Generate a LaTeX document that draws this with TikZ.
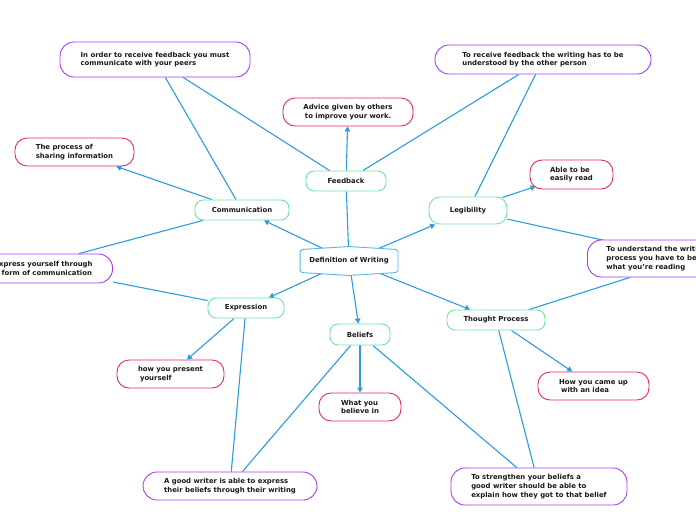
\documentclass[tikz,border=0pt]{standalone}
\usepackage{fontspec}
\setmainfont{DejaVu Sans}
\usepackage{xcolor}
\usetikzlibrary{calc, arrows.meta, backgrounds}

\definecolor{linkblue}{HTML}{2A9DDF}
\definecolor{hubblue}{HTML}{5AB3EA}
\definecolor{topicgreen}{HTML}{6BE4A3}
\definecolor{notepink}{HTML}{E8285E}
\definecolor{notepurple}{HTML}{A53DF0}

\tikzset{
    box/.style={fill=white, line width=0.9pt, align=left, inner sep=0pt, text=black!90, font=\fontsize{6.9}{8.7}\selectfont\bfseries},
    topic/.style={box, draw=topicgreen, rounded corners=8pt, minimum height=20pt},
    fact/.style={box, draw=notepink, rounded corners=12pt, minimum height=28pt},
    link/.style={box, draw=notepurple, rounded corners=14pt, minimum height=29pt},
    conn/.style={linkblue, line width=1.1pt},
    arr/.style={conn, -{Triangle[length=5pt,width=5.5pt]}},
}

\begin{document}
\begin{tikzpicture}[x=1pt, y=-1pt]
    \useasboundingbox (0,0) rectangle (696,520);
    % centre
    \node[box, fill=none, minimum width=97pt, minimum height=22pt] (def) at (349,261) {Definition of Writing};
    % feedback
    \node[topic, minimum width=80pt] (fb) at (346,181) {Feedback};
    \node[fact, minimum width=130pt] (adv) at (348,112) {Advice given by others\\\hspace*{1.5pt}to improve your work.};
    \node[link, minimum width=190pt, minimum height=35pt] (order) at (155,59.5) {In order to receive feedback you must\\communicate with your peers};
    \node[link, minimum width=216pt] (recv) at (543,59.5) {To receive feedback the writing has to be\\understood by the other person};
    % communication
    \node[fact, minimum width=119pt] (share) at (74.5,152) {The process of\\sharing information};
    \node[topic, minimum width=94pt] (comm) at (242,210) {Communication};
    \node[link, anchor=east, inner xsep=20pt] (expr) at (113,268.5) {Express yourself through\\a form of communication};
    % legibility
    \node[fact, minimum width=83pt, minimum height=29pt] (easy) at (571.5,174.5) {Able to be\\easily read};
    \node[topic, minimum width=78pt, minimum height=27pt, rounded corners=11pt] (leg) at (468,210.5) {Legibility};
    \node[link, anchor=west, inner xsep=19pt, minimum height=37pt] (under) at (587,258.5) {To understand the writing\\process you have to be\\what you're reading};
    % expression and beliefs
    \node[topic, minimum width=76pt] (expn) at (246,308) {Expression};
    \node[fact, minimum width=107pt] (pres) at (170.5,374) {how you present\\\hspace*{2pt}yourself};
    \node[topic, minimum width=60pt, minimum height=21pt] (bel) at (360,334.5) {Beliefs};
    \node[fact, minimum width=82pt] (what) at (360,407) {What you\\believe in};
    \node[link, minimum width=174pt, minimum height=28pt] (good) at (230,486) {A good writer is able to express\\their beliefs through their writing};
    % thought process
    \node[topic, minimum width=98pt] (thought) at (496,320) {Thought Process};
    \node[fact, minimum width=111pt] (came) at (593.5,386) {How you came up\\\hspace*{2pt}with an idea};
    \node[link, minimum width=176pt, minimum height=37pt] (stren) at (539,486.5) {To strengthen your beliefs a\\good writer should be able to\\explain how they got to that belief};

    \begin{scope}[on background layer]
    \draw[conn] (def) -- (fb);
    \draw[arr] (def) -- (comm);
    \draw[arr] (def) -- (leg);
    \draw[arr] (def) -- (expn);
    \draw[arr] (def) -- (bel);
    \draw[arr] (def) -- (thought);
    \draw[arr] (fb) -- (adv);
    \draw[conn] (fb) -- (order);
    \draw[conn] (fb) -- (recv);
    \draw[arr] (comm) -- (share);
    \draw[conn] (comm) -- (order);
    \draw[conn] (comm) -- ($(expr.north east)+(-34,0)$);
    \draw[conn] (expn) -- (expr);
    \draw[arr] (expn) -- (pres);
    \draw[conn] (expn) -- (good);
    \draw[arr] (bel) -- (what);
    \draw[conn] (bel) -- (good);
    \draw[conn] (bel) -- (stren);
    \draw[arr] (thought) -- (came);
    \draw[conn] (thought) -- (stren);
    \draw[conn] ($(thought.north)+(33,0)$) -- ($(under.south west)+(43,0)$);
    \draw[arr] ($(leg.north east)+(-5,1)$) -- ($(easy.south west)+(6,-3)$);
    \draw[conn] (leg) -- (recv);
    \draw[conn] (leg) -- ($(under.north west)+(18,1)$);
    \draw[hubblue, line width=0.9pt, fill=white, rounded corners=2pt] (def.north west) -- ($(def.north)+(0,-3)$) -- (def.north east) -- (def.south east) -- ($(def.south)+(0,3)$) -- (def.south west) -- cycle;
    \end{scope}
\end{tikzpicture}
\end{document}
